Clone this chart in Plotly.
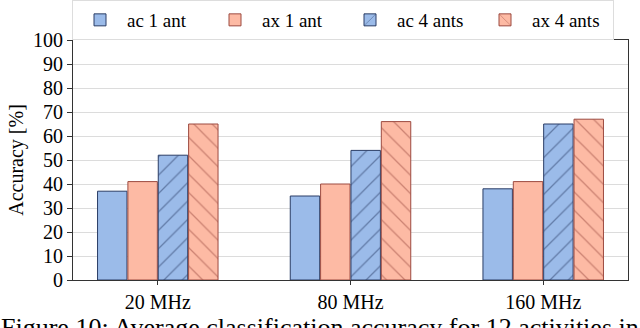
import plotly.graph_objects as go

categories = ["20 MHz", "80 MHz", "160 MHz"]
series_names = ["ac 1 ant", "ax 1 ant", "ac 4 ants", "ax 4 ants"]
ac_1ant = [37, 35, 38]
ax_1ant = [41, 40, 41]
ac_4ants = [52, 54, 65]
ax_4ants = [65, 66, 67]
y_ticks = list(range(0, 101, 10))

blue_fill = "#9bbbe9"
blue_line = "#2a3d66"
red_fill = "#fdbaa4"
red_line = "#9c4a40"

styles = [
    (ac_1ant, blue_fill, blue_line, ""),
    (ax_1ant, red_fill, red_line, ""),
    (ac_4ants, blue_fill, blue_line, "/"),
    (ax_4ants, red_fill, red_line, "\\"),
]

FF = "Liberation Serif"
FS = 20

fig = go.Figure()
for name, (vals, fill, line, shape) in zip(series_names, styles):
    fig.add_trace(go.Bar(
        x=categories, y=vals, name=name,
        marker=dict(
            color=fill,
            line=dict(color=line, width=1),
            pattern=dict(shape=shape, fgcolor=line, bgcolor=fill, size=13, solidity=0.1,
                         fillmode="overlay") if shape else None,
        ),
    ))

fig.update_layout(
    width=640, height=328,
    margin=dict(l=73, r=12, t=40, b=48, autoexpand=False),
    paper_bgcolor="white", plot_bgcolor="white",
    font=dict(family=FF, size=FS, color="black"),
    barmode="group", bargap=0.37, bargroupgap=0.03,
    showlegend=True,
    legend=dict(orientation="h", x=72 / 640, xanchor="left", y=1.0, yanchor="top",
                yref="container", xref="container",
                bordercolor="#dddddd", borderwidth=1, bgcolor="rgba(255,255,255,0)",
                font=dict(family=FF, size=19, color="black"), itemwidth=44,
                entrywidth=76, entrywidthmode="pixels",
                tracegroupgap=0),
    xaxis=dict(range=[-0.44, 2.44], showline=True, linecolor="#333333", linewidth=1,
               mirror=True, ticks="outside", ticklen=4, tickcolor="#333333",
               tickfont=dict(family=FF, size=FS, color="black")),
    yaxis=dict(range=[0, 100], tickvals=y_ticks, showline=True, linecolor="#333333",
               linewidth=1, mirror=True, ticks="outside", ticklen=5, tickcolor="#333333",
               showgrid=True, gridcolor="#dcdcdc", gridwidth=1,
               title=dict(text="Accuracy [%]", font=dict(family=FF, size=FS, color="black"),
                          standoff=4),
               tickfont=dict(family=FF, size=FS, color="black"), zeroline=False),
)

fig.add_annotation(text="Figure 10: Average classification accuracy for 12 activities in",
                   xref="paper", yref="paper", x=-0.133, y=-0.128, xanchor="left",
                   yanchor="top", showarrow=False,
                   font=dict(family=FF, size=26, color="black"))

fig.write_html("out.html", config={"displayModeBar": False},
               post_script="document.body.style.margin='0';document.body.style.padding='0';")
